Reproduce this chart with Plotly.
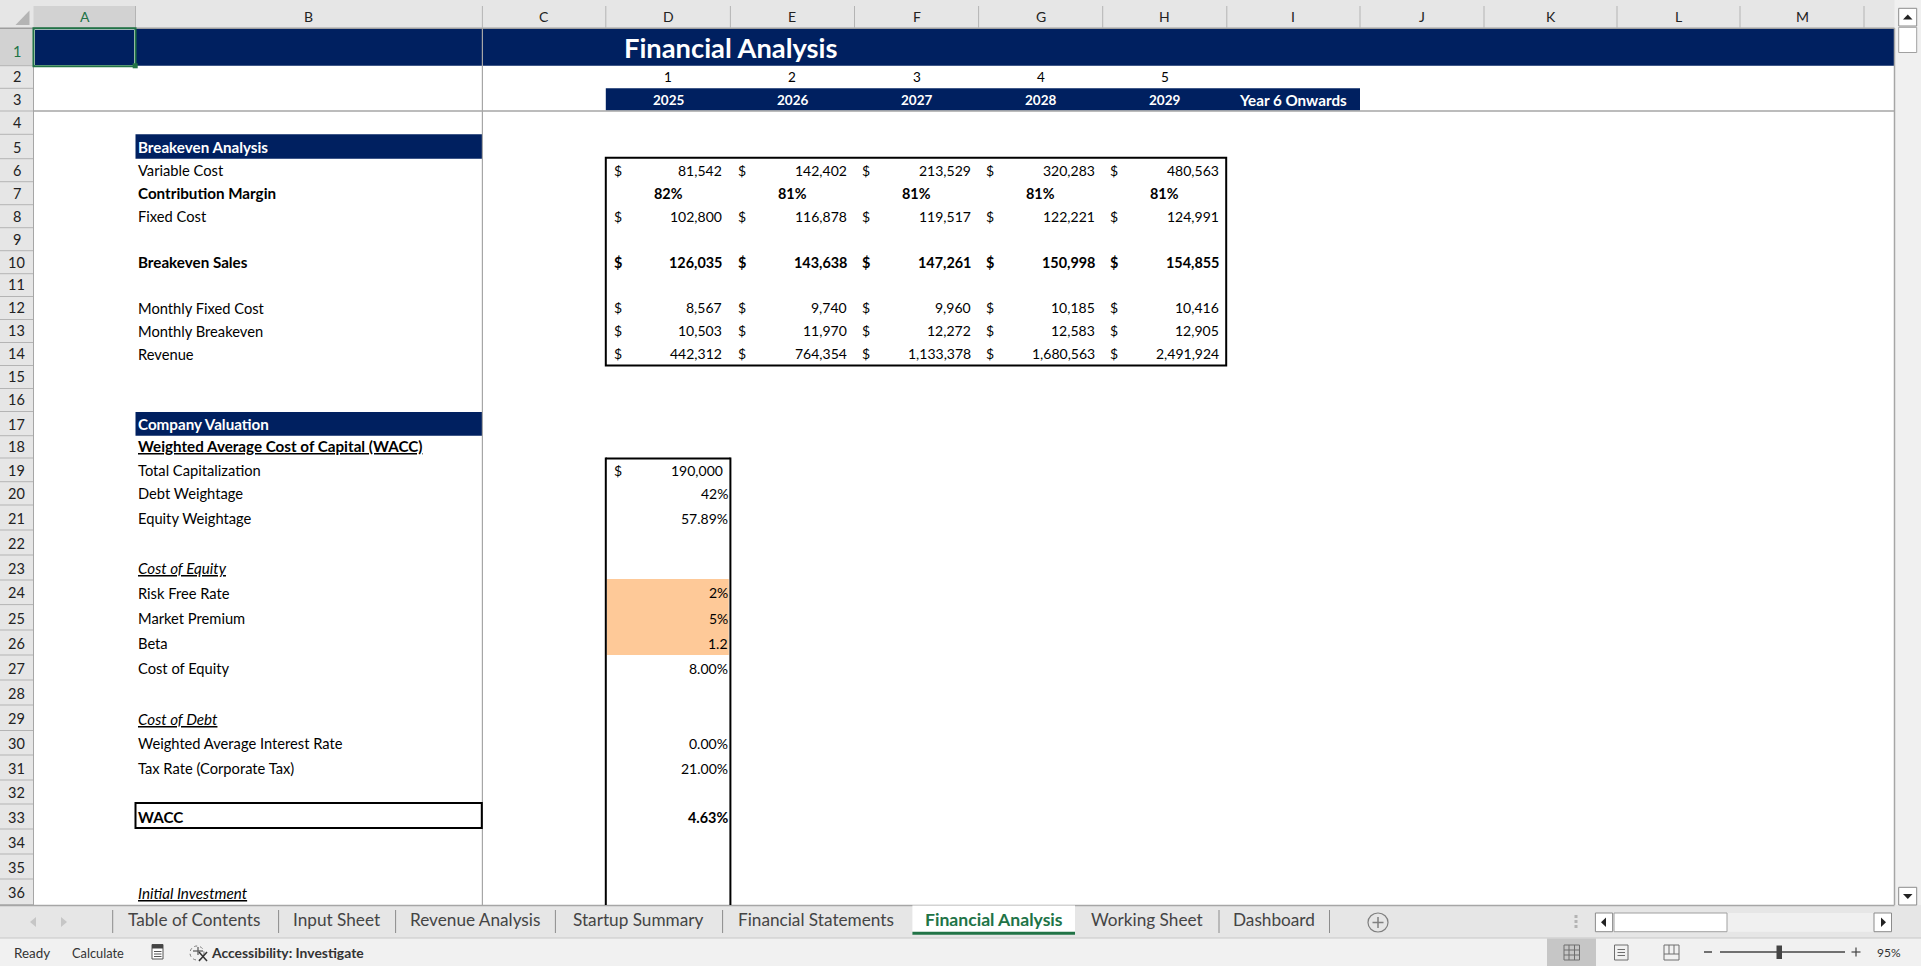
import plotly.graph_objects as go

# values
years = ["2025", "2026", "2027", "2028", "2029"]
year_index = [1, 2, 3, 4, 5]
variable_cost = [81542, 142402, 213529, 320283, 480563]
contribution_margin = [82, 81, 81, 81, 81]
fixed_cost = [102800, 116878, 119517, 122221, 124991]
breakeven_sales = [126035, 143638, 147261, 150998, 154855]
monthly_fixed = [8567, 9740, 9960, 10185, 10416]
monthly_breakeven = [10503, 11970, 12272, 12583, 12905]
revenue = [442312, 764354, 1133378, 1680563, 2491924]
col_letters = list("ABCDEFGHIJKLM")
sheet_tabs = ["Table of Contents", "Input Sheet", "Revenue Analysis", "Startup Summary",
              "Financial Statements", "Financial Analysis", "Working Sheet", "Dashboard"]

# column B labels: row, text, style
labels_b = [
    (5, "Breakeven Analysis", "head"), (6, "Variable Cost", ""), (7, "Contribution Margin", "b"),
    (8, "Fixed Cost", ""), (10, "Breakeven Sales", "b"), (12, "Monthly Fixed Cost", ""),
    (13, "Monthly Breakeven", ""), (14, "Revenue", ""), (17, "Company Valuation", "head"),
    (18, "Weighted Average Cost of Capital (WACC)", "bu"), (19, "Total Capitalization", ""),
    (20, "Debt Weightage", ""), (21, "Equity Weightage", ""), (23, "Cost of Equity", "iu"),
    (24, "Risk Free Rate", ""), (25, "Market Premium", ""), (26, "Beta", ""),
    (27, "Cost of Equity", ""), (29, "Cost of Debt", "iu"),
    (30, "Weighted Average Interest Rate", ""), (31, "Tax Rate (Corporate Tax)", ""),
    (33, "WACC", "b"), (36, "Initial Investment", "iu"),
]
# column D valuation cells: row, text, bold
valuation = [(20, "42%", False), (21, "57.89%", False), (24, "2%", False), (25, "5%", False),
             (26, "1.2", False), (27, "8.00%", False), (30, "0.00%", False), (31, "21.00%", False),
             (33, "4.63%", True)]

# sheet geometry in screen pixels
col_edges = [33.5, 135.5, 482.4, 605.8, 730.4, 854.5, 978.6, 1102.7, 1226.8, 1360, 1484, 1617, 1740, 1864]
row_bottoms = [28.3, 65.7, 88.3, 111, 134.3, 158.7, 181.7, 204.7, 227.7, 250.7, 273.7, 296.5, 319.5,
               342.5, 365.5, 388.5, 411.5, 435.7, 458, 481.7, 505, 530, 555, 580, 604.6, 630, 655,
               680, 705, 730.5, 755, 780, 804, 829, 854, 879, 904.5]
tab_seps = [112.7, 278.6, 395.6, 555.4, 722.6, 1219, 1329.5]
tab_centers = [194, 336.8, 475, 638, 816, 994, 1147, 1274]

NAVY = "#002060"
GREEN = "#217346"
HDR = "#e6e6e6"
FONT = "Lato"
LABEL = 14.7
NUM = 14
NUM_B = 14.4

shapes = []
notes = []


def rect(x0, y0, x1, y1, fill=None, line=None, w=1):
    shapes.append(dict(type="rect", xref="x", yref="y", x0=x0, y0=y0, x1=x1, y1=y1,
                       fillcolor=fill or "rgba(0,0,0,0)",
                       line=dict(color=line or "rgba(0,0,0,0)", width=w if line else 0)))


def seg(x0, y0, x1, y1, color="#000000", w=1):
    shapes.append(dict(type="line", xref="x", yref="y", x0=x0, y0=y0, x1=x1, y1=y1,
                       line=dict(color=color, width=w)))


def tri(points, fill):
    path = "M " + " L ".join(f"{a},{b}" for a, b in points) + " Z"
    shapes.append(dict(type="path", xref="x", yref="y", path=path, fillcolor=fill, line=dict(width=0)))


def text(x, y, s, anchor="left", size=NUM, color="#000000", bold=False, italic=False, under=False, family=FONT):
    if bold:
        s = f"<b>{s}</b>"
    if italic:
        s = f"<i>{s}</i>"
    font = dict(family=family, size=size, color=color)
    if under:
        font["lineposition"] = "under"
    notes.append(dict(xref="x", yref="y", x=x, y=y, text=s, showarrow=False, xanchor=anchor,
                      yanchor="middle", font=font, borderpad=0, borderwidth=0))


def row_y(r):
    # text sits at the bottom of its cell like excel does
    return row_bottoms[r] - 11.7


def col_mid(i):
    return (col_edges[i] + col_edges[i + 1]) / 2


# --- backgrounds ---
rect(0, 0, 1921, 28.3, HDR)
rect(0, 28.3, 33.5, 905, HDR)
rect(1894.5, 0, 1921, 905, "#f0f0f0")
rect(0, 905, 1921, 938, HDR)
rect(0, 938, 1921, 966, "#f1f1f1")
seg(0, 905.5, 1894.5, 905.5, "#a6a6a6", 1.5)
seg(0, 938, 1921, 938, "#c8c8c8", 1)

# column header
rect(33.5, 6, 135.5, 28.3, "#d2d2d2")
rect(0, 28.3, 33.5, 65.7, "#d2d2d2")
seg(0, 28.3, 1894.5, 28.3, "#9e9e9e", 1.5)
for x in col_edges[1:]:
    seg(x, 6, x, 28, "#b4b4b4", 1)
for i, c in enumerate(col_letters):
    text(col_mid(i), 16.6, c, "center", 14, GREEN if c == "A" else "#222222")
tri([(15.5, 25), (29.5, 25), (29.5, 10.5)], "#b4b4b4")

# row header
for r in range(1, 37):
    seg(0, row_bottoms[r], 33.5, row_bottoms[r], "#b4b4b4", 1)
    text(16.5, row_y(r) if r > 1 else 51, str(r), "center", 14.5, GREEN if r == 1 else "#222222")
seg(33.5, 28.3, 33.5, 905, "#a6a6a6", 1)

# navy bands
rect(33.5, 29, 1894.5, 65.7, NAVY)
rect(col_edges[3], row_bottoms[2], col_edges[9], row_bottoms[3] - 0.5, NAVY)
rect(col_edges[1], row_bottoms[4], col_edges[2], row_bottoms[5], NAVY)
rect(col_edges[1], 412, col_edges[2], row_bottoms[17], NAVY)

# freeze lines
seg(col_edges[2], 28.3, col_edges[2], 905, "#a6a6a6", 1.2)
seg(33.5, 111, 1894.5, 111, "#a6a6a6", 1.5)
seg(1894.5, 28.3, 1894.5, 905, "#a6a6a6", 1.5)

# selected cell
rect(34.5, 29.3, 134.5, 65.5, None, "#ffffff", 1)
rect(33.5, 28.3, 135.5, 66.3, None, GREEN, 2)
rect(132.7, 63.3, 137.7, 68.3, GREEN)

# title and year header
text(624, 47.2, "Financial Analysis", "left", 27.3, "#ffffff", bold=True)
for i, (n, y) in enumerate(zip(year_index, years)):
    text(col_mid(3 + i), row_y(2), str(n), "center", 13.5)
    text(col_mid(3 + i), 100.3, y, "center", 13.5, "#ffffff", bold=True)
text(col_mid(8), 100.3, "Year 6 Onwards", "center", 15.2, "#ffffff", bold=True)

# column B labels
for r, s, style in labels_b:
    if style == "head":
        text(138.4, row_y(r), s, size=15.2, color="#ffffff", bold=True)
    else:
        size = 15.2 if "b" in style or "i" in style else LABEL
        text(138.4, row_y(r), s, size=size, bold="b" in style, italic="i" in style, under="u" in style)

# breakeven block
money_rows = [(6, variable_cost, False), (8, fixed_cost, False), (10, breakeven_sales, True),
              (12, monthly_fixed, False), (13, monthly_breakeven, False), (14, revenue, False)]
for r, vals, bold in money_rows:
    for i, v in enumerate(vals):
        text(col_edges[3 + i] + 7.7, row_y(r), "$", size=NUM_B if bold else NUM, bold=bold)
        text(col_edges[4 + i] - 8, row_y(r), f"{v:,}", "right", size=NUM_B if bold else NUM, bold=bold)
for i, p in enumerate(contribution_margin):
    text(col_mid(3 + i), row_y(7), f"{p}%", "center", size=NUM_B, bold=True)
rect(col_edges[3], row_bottoms[5] - 1, col_edges[8] - 0.6, row_bottoms[14], None, "#000000", 2)

# valuation block
rect(606.8, row_bottoms[23] - 1, 728.8, row_bottoms[26], "#fec998")
text(col_edges[3] + 7.7, row_y(19), "$")
text(col_edges[4] - 7.5, row_y(19), f"{190000:,}", "right")
for r, s, bold in valuation:
    text(col_edges[4] - 2.6, row_y(r), s, "right", size=NUM_B if bold else NUM, bold=bold)
seg(col_edges[3], 458.5, col_edges[4], 458.5, "#000000", 2)
seg(col_edges[3], 457.5, col_edges[3], 905, "#000000", 2)
seg(col_edges[4], 457.5, col_edges[4], 905, "#000000", 2)

# WACC label box
rect(col_edges[1], row_bottoms[32] - 1, col_edges[2] - 0.6, row_bottoms[33] - 1, None, "#000000", 2)

# sheet tabs
rect(912.4, 905.5, 1075, 934, "#ffffff")
seg(912.4, 933.3, 1075, 933.3, GREEN, 3)
for x in tab_seps:
    seg(x, 910, x, 933, "#8c8c8c", 1)
for name, x in zip(sheet_tabs, tab_centers):
    active = name == "Financial Analysis"
    text(x, 919, name, "center", 17.6 if active else 17.2, GREEN if active else "#444444", bold=active)
tri([(36, 917), (36, 927), (30, 922)], "#c6c6c6")
tri([(61, 917), (61, 927), (67, 922)], "#c6c6c6")
shapes.append(dict(type="circle", xref="x", yref="y", x0=1368, y0=913, x1=1388, y1=932,
                   line=dict(color="#7f7f7f", width=1.2), fillcolor="rgba(0,0,0,0)"))
seg(1372.5, 922.5, 1383.5, 922.5, "#7f7f7f", 1.5)
seg(1378, 917, 1378, 928, "#7f7f7f", 1.5)
for y in (915, 920, 925):
    rect(1574.5, y, 1577.5, y + 3, "#b4b4b4")

# horizontal scrollbar
rect(1612, 913, 1874, 931.7, "#f0f0f0")
rect(1595.4, 913, 1612.6, 931.7, "#ffffff", "#8c8c8c", 1)
rect(1614, 913, 1727, 931.7, "#ffffff", "#a0a0a0", 1)
rect(1874, 913, 1891.5, 931.7, "#ffffff", "#8c8c8c", 1)
tri([(1606, 917.5), (1606, 927), (1601, 922.3)], "#222222")
tri([(1881, 917.5), (1881, 927), (1886, 922.3)], "#222222")

# vertical scrollbar
rect(1898.7, 8.3, 1916.7, 26, "#ffffff", "#8c8c8c", 1)
rect(1898.7, 27.3, 1916.7, 52.5, "#ffffff", "#a0a0a0", 1)
rect(1898.7, 887.3, 1916.7, 905, "#ffffff", "#8c8c8c", 1)
tri([(1903, 19.5), (1912.5, 19.5), (1907.8, 14.5)], "#222222")
tri([(1903, 894), (1912.5, 894), (1907.8, 899)], "#222222")

# status bar
text(14, 952.7, "Ready", size=13.4, color="#333333")
text(71.6, 952.7, "Calculate", size=12.8, color="#333333")
rect(152, 944.5, 163, 959, "#ffffff", "#555555", 1)
rect(152, 944.5, 163, 948.5, "#444444")
for y in (951.5, 954, 956.5):
    seg(154, y, 161.5, y, "#555555", 1)
shapes.append(dict(type="circle", xref="x", yref="y", x0=190, y0=946, x1=204, y1=960,
                   line=dict(color="#777777", width=1, dash="dot"), fillcolor="rgba(0,0,0,0)"))
seg(193, 951, 203, 951, "#555555", 1.2)
seg(198, 947, 198, 955, "#555555", 1.2)
seg(199, 952, 207, 961, "#333333", 1.5)
seg(207, 952, 199, 961, "#333333", 1.5)
text(211, 952.7, "Accessibility: Investigate", size=13.9, color="#333333", bold=True)

# view buttons and zoom slider
rect(1547, 938.5, 1596, 966, "#c6c6c6")
rect(1564, 945, 1579.5, 960, None, "#6e6e6e", 1)
for x in (1569, 1574.5):
    seg(x, 945, x, 960, "#6e6e6e", 1)
for y in (950, 955):
    seg(1564, y, 1579.5, y, "#6e6e6e", 1)
rect(1614.5, 945, 1628, 960, None, "#6e6e6e", 1)
for y in (949.5, 952.5, 955.5):
    seg(1617.5, y, 1625, y, "#6e6e6e", 1)
rect(1664, 945, 1679, 960, None, "#6e6e6e", 1)
seg(1664, 954, 1679, 954, "#6e6e6e", 1)
seg(1669, 945, 1669, 954, "#6e6e6e", 1)
seg(1674, 945, 1674, 954, "#6e6e6e", 1)
seg(1704, 952, 1712, 952, "#444444", 1.5)
seg(1720, 952, 1845, 952, "#444444", 1.5)
rect(1776.5, 945.5, 1782, 959, "#444444")
seg(1851.5, 952, 1860.5, 952, "#444444", 1.2)
seg(1856, 947.5, 1856, 956.5, "#444444", 1.2)
text(1889, 952.7, "95%", "center", 12, "#333333")

fig = go.Figure()
fig.update_layout(
    width=1921, height=966,
    margin=dict(l=0, r=0, t=0, b=0, pad=0),
    plot_bgcolor="#ffffff", paper_bgcolor="#ffffff",
    xaxis=dict(range=[0, 1921], visible=False, fixedrange=True),
    yaxis=dict(range=[966, 0], visible=False, fixedrange=True),
    showlegend=False, hovermode=False,
    shapes=shapes, annotations=notes,
)
fig.write_html("out.html", config={"displayModeBar": False},
               post_script="document.body.style.margin='0';document.body.style.overflow='hidden';")
